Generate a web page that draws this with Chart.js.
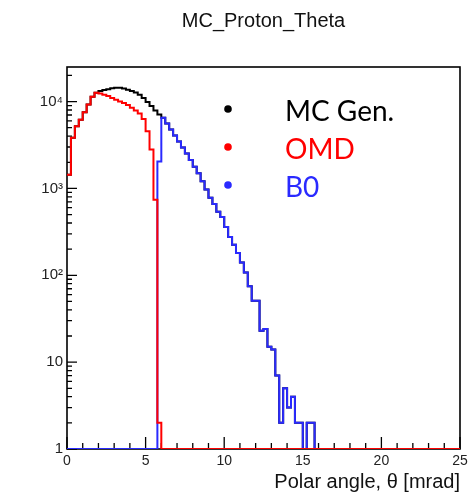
<!DOCTYPE html>
<html>
<head>
<meta charset="utf-8">
<script src="https://cdn.jsdelivr.net/npm/chart.js@4.4.1/dist/chart.umd.min.js"></script>
<style>
html, body { margin: 0; padding: 0; background: #fff; }
</style>
</head>
<body>
<canvas id="chart-theta" width="476" height="498"></canvas>
<script>
// histogram binning: 100 bins of 0.25 mrad from 0 to 25 mrad
var binWidth = 0.25;
var xMin = 0, xMax = 25;
var yMin = 1, yMax = 25000;
var yTicks = [1, 10, 100, 1000, 10000];
var yTickLabels = ['1', '10', '10\u00b2', '10\u00b3', '10\u2074'];

// bin contents
var mcGen = [
    1440, 3830, 5200, 6190, 7540, 9230, 11350, 12600, 13200, 13600,
    13900, 14200, 14400, 14400, 14100, 13700, 13200, 12700, 12000, 11000,
    9900, 8900, 7900, 7100, 6500, 5600, 4760, 4060, 3460, 2950,
    2520, 2120, 1780, 1500, 1210, 970, 780, 660, 540, 470,
    360, 275, 225, 180, 140, 108, 75, 51, 51, 23,
    24, 15, 14, 7, 2, 5, 3, 4, 2, 2,
    0, 2, 2, 0, 0, 0, 0, 0, 0, 0,
    0, 0, 0, 0, 0, 0, 0, 0, 0, 0,
    0, 0, 0, 0, 0, 0, 0, 0, 0, 0,
    0, 0, 0, 0, 0, 0, 0, 0, 0, 0
];
var omd = [
    1440, 3830, 5200, 6190, 7540, 9230, 11350, 12600, 12400, 12000,
    11600, 11000, 10500, 10000, 9600, 9100, 8500, 7900, 7300, 6300,
    4550, 2800, 740, 2, 0, 0, 0, 0, 0, 0,
    0, 0, 0, 0, 0, 0, 0, 0, 0, 0,
    0, 0, 0, 0, 0, 0, 0, 0, 0, 0,
    0, 0, 0, 0, 0, 0, 0, 0, 0, 0,
    0, 0, 0, 0, 0, 0, 0, 0, 0, 0,
    0, 0, 0, 0, 0, 0, 0, 0, 0, 0,
    0, 0, 0, 0, 0, 0, 0, 0, 0, 0,
    0, 0, 0, 0, 0, 0, 0, 0, 0, 0
];
var b0 = [
    0, 0, 0, 0, 0, 0, 0, 0, 0, 0,
    0, 0, 0, 0, 0, 0, 0, 0, 0, 0,
    0, 0, 0, 2040, 6500, 5600, 4760, 4060, 3460, 2950,
    2520, 2120, 1780, 1500, 1210, 970, 780, 660, 540, 470,
    360, 275, 225, 180, 140, 108, 75, 51, 51, 23,
    24, 15, 14, 7, 2, 5, 3, 4, 2, 2,
    0, 2, 2, 0, 0, 0, 0, 0, 0, 0,
    0, 0, 0, 0, 0, 0, 0, 0, 0, 0,
    0, 0, 0, 0, 0, 0, 0, 0, 0, 0,
    0, 0, 0, 0, 0, 0, 0, 0, 0, 0
];

// step outline like ROOT: empty bins sit on the axis floor
function histPoints(counts) {
    var pts = [];
    for (var i = 0; i < counts.length; i++) {
        pts.push({x: xMin + i * binWidth, y: Math.max(counts[i], yMin)});
    }
    pts.push({x: xMin + counts.length * binWidth, y: Math.max(counts[counts.length - 1], yMin)});
    return pts;
}

var framePlugin = {
    id: 'frame',
    beforeDatasetsDraw: function(chart) {
        var ctx = chart.ctx, a = chart.chartArea;
        var xs = chart.scales.x, ys = chart.scales.y;
        ctx.save();
        ctx.strokeStyle = '#000';
        ctx.lineWidth = 1.6;
        ctx.strokeRect(a.left, a.top, a.right - a.left, a.bottom - a.top);
        ctx.lineWidth = 1.3;
        ctx.beginPath();
        for (var v = xMin; v <= xMax; v++) {
            var px = xs.getPixelForValue(v);
            var len = v % 5 === 0 ? 12 : 6;
            ctx.moveTo(px, a.bottom);
            ctx.lineTo(px, a.bottom - len);
        }
        for (var d = 1; d <= yMax; d *= 10) {
            for (var m = 1; m <= 9; m++) {
                var val = m * d;
                if (val > yMax) break;
                var py = ys.getPixelForValue(val);
                ctx.moveTo(a.left, py);
                ctx.lineTo(a.left + (m === 1 ? 10 : 5), py);
            }
        }
        ctx.stroke();
        ctx.restore();
    },
    afterDraw: function(chart) {
        var ctx = chart.ctx, a = chart.chartArea;
        ctx.save();
        // title
        ctx.fillStyle = '#111';
        ctx.font = '20px "Liberation Sans", Arial, sans-serif';
        ctx.textAlign = 'center';
        ctx.textBaseline = 'middle';
        ctx.fillText('MC_Proton_Theta', (a.left + a.right) / 2, 21);
        // legend
        ctx.font = '28px Lato, "Noto Sans", sans-serif';
        ctx.textAlign = 'left';
        ctx.textBaseline = 'alphabetic';
        chart.data.datasets.forEach(function(ds, i) {
            var y = 121 + i * 38;
            ctx.fillStyle = ds.borderColor;
            ctx.beginPath();
            ctx.arc(228, y - 12, 3.8, 0, Math.PI * 2);
            ctx.fill();
            ctx.fillText(ds.label, 285, y);
        });
        ctx.restore();
    }
};

var thetaChart = document.getElementById('chart-theta');

new Chart(thetaChart, {
    type: 'line',
    data: {
        datasets: [
            {label: 'MC Gen.', data: histPoints(mcGen), borderColor: '#000000', order: 3},
            {label: 'OMD', data: histPoints(omd), borderColor: '#ff0000', order: 1},
            {label: 'B0', data: histPoints(b0), borderColor: '#2a2aff', order: 2}
        ]
    },
    options: {
        responsive: false,
        animation: false,
        layout: {padding: {top: 67, right: 16, left: 0, bottom: 0}},
        elements: {
            point: {radius: 0},
            line: {borderWidth: 2, tension: 0, stepped: true, fill: false}
        },
        plugins: {
            legend: {display: false},
            tooltip: {enabled: false},
            title: {display: false}
        },
        scales: {
            x: {
                type: 'linear',
                min: xMin,
                max: xMax,
                grid: {display: false, drawTicks: false},
                border: {display: false},
                ticks: {
                    stepSize: 5,
                    padding: 4,
                    color: '#222',
                    font: {family: '"Liberation Sans", Arial, sans-serif', size: 14}
                },
                title: {
                    display: true,
                    text: 'Polar angle, \u03b8 [mrad]',
                    align: 'end',
                    color: '#111',
                    font: {family: '"Liberation Sans", Arial, sans-serif', size: 20},
                    padding: {top: 0, bottom: 4}
                },
                afterFit: function(s) { s.height = 49; }
            },
            y: {
                type: 'logarithmic',
                min: yMin,
                max: yMax,
                grid: {display: false, drawTicks: false},
                border: {display: false},
                afterBuildTicks: function(s) {
                    s.ticks = yTicks.map(function(v) { return {value: v, major: true}; });
                },
                ticks: {
                    autoSkip: false,
                    padding: 4,
                    color: '#222',
                    font: {family: '"Liberation Sans", Arial, sans-serif', size: 15},
                    callback: function(value, index) { return yTickLabels[index]; }
                },
                afterFit: function(s) { s.width = 67; }
            }
        }
    },
    plugins: [framePlugin]
});
</script>
</body>
</html>
